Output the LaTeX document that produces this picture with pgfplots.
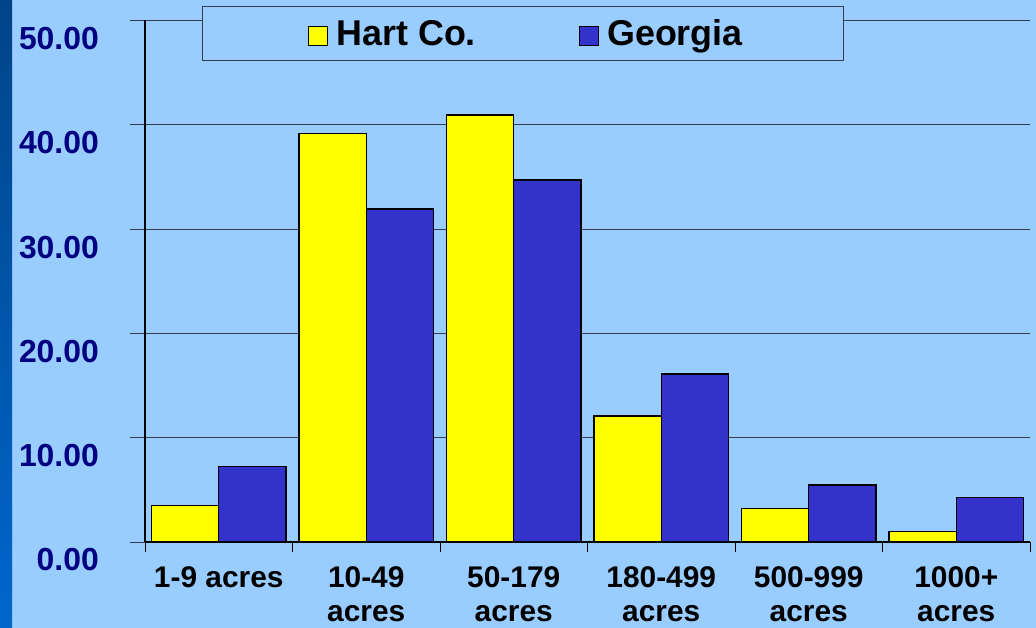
\documentclass[border=0pt]{standalone}
\usepackage{fontspec}
\setmainfont{Liberation Sans}
\usepackage{pgfplots}
\pgfplotsset{compat=1.18}
\definecolor{bgblue}{HTML}{99CCFF}
\definecolor{hart}{HTML}{FFFF00}
\definecolor{geo}{HTML}{3333CC}
\definecolor{navy}{HTML}{000080}
\definecolor{stripTop}{HTML}{004488}
\definecolor{stripBot}{HTML}{0066CC}
\definecolor{gridc}{HTML}{333C4A}
\begin{document}
\begin{tikzpicture}
\fill[bgblue] (0,0) rectangle (1036bp,628bp);
\shade[top color=stripTop, bottom color=stripBot] (0,0) rectangle (12bp,628bp);
\begin{axis}[
  at={(145bp,86bp)}, anchor=south west,
  scale only axis, width=885bp, height=521.5bp,
  xmin=-0.5, xmax=5.5, ymin=0, ymax=50,
  ybar=0pt, bar width=0.455,
  axis x line*=bottom, axis y line*=left,
  axis line style={black, line width=1.5bp, -},
  tick align=outside,
  major tick length=15bp,
  minor tick length=10bp,
  ytick={0,10,...,50},
  yticklabels={0.00,10.00,20.00,30.00,40.00,50.00},
  ymajorgrids, grid style={gridc, line width=1bp},
  major y tick style={gridc, line width=1bp},
  xtick={0,...,5},
  major x tick style={draw=none},
  minor xtick={-0.5,0.5,...,5.5},
  minor x tick style={black, line width=1bp},
  xticklabels={1-9 acres,{10-49\\acres},{50-179\\acres},{180-499\\acres},{500-999\\acres},{1000+\\acres}},
  yticklabel style={font=\fontsize{32}{36}\selectfont\bfseries, text=navy, anchor=east, inner sep=0pt, xshift=-31bp, yshift=-18bp},
  xticklabel style={font=\fontsize{30}{35}\selectfont\bfseries, text=black, align=center, anchor=north, inner sep=0pt, yshift=-9bp},
  legend style={at={(0.4271,0.975)}, anchor=center, draw=gridc, line width=1bp, fill=bgblue,
    font=\fontsize{36}{40}\selectfont\bfseries, inner xsep=97.5bp, inner ysep=10bp,
    nodes={inner sep=3bp},
    /tikz/every odd column/.append style={column sep=5bp},
    /tikz/every even column/.append style={column sep=92bp}},
  legend columns=2,
]
\addplot[fill=hart, draw=black, line width=1.3bp,
  legend image code/.code={\path (0bp,0bp); \draw[fill=hart,draw=black,line width=1.2bp] (8bp,-12bp) rectangle (27bp,7bp);}]
  coordinates {(0,3.48) (1,39.15) (2,40.94) (3,12.08) (4,3.23) (5,0.99)};
\addplot[fill=geo, draw=black, line width=1.3bp,
  legend image code/.code={\path (0bp,0bp); \draw[fill=geo,draw=black,line width=1.2bp] (8bp,-12bp) rectangle (27bp,7bp);}]
  coordinates {(0,7.22) (1,31.93) (2,34.70) (3,16.10) (4,5.47) (5,4.28)};
\legend{Hart Co.,Georgia}
\end{axis}
\pgfresetboundingbox
\useasboundingbox (0,0) rectangle (1036bp,628bp);
\end{tikzpicture}
\end{document}
